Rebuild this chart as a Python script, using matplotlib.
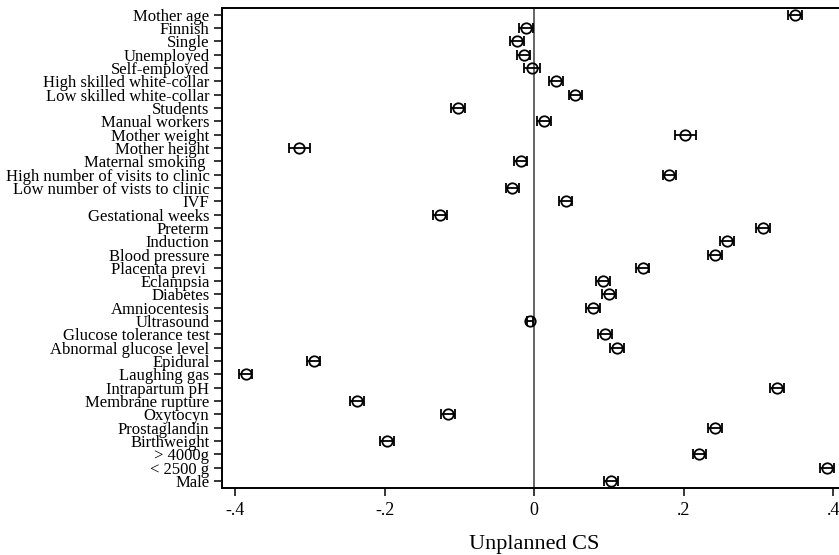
import matplotlib.pyplot as plt

labels = [
    "Mother age", "Finnish", "Single", "Unemployed", "Self-employed",
    "High skilled white-collar", "Low skilled white-collar", "Students",
    "Manual workers", "Mother weight", "Mother height", "Maternal smoking ",
    "High number of visits to clinic", "Low number of vists to clinic", "IVF",
    "Gestational weeks", "Preterm", "Induction", "Blood pressure",
    "Placenta previ ", "Eclampsia", "Diabetes", "Amniocentesis", "Ultrasound",
    "Glucose tolerance test", "Abnormal glucose level", "Epidural",
    "Laughing gas", "Intrapartum pH", "Membrane rupture", "Oxytocyn",
    "Prostaglandin", "Birthweight", "> 4000g", "< 2500 g", "Male",
]

coef = [
    0.349, -0.011, -0.023, -0.014, -0.003, 0.029, 0.055, -0.102, 0.013,
    0.202, -0.314, -0.018, 0.181, -0.029, 0.042, -0.126, 0.306, 0.258,
    0.242, 0.145, 0.092, 0.100, 0.079, -0.005, 0.095, 0.111, -0.295,
    -0.386, 0.325, -0.237, -0.115, 0.242, -0.197, 0.221, 0.392, 0.103,
]

ci_lo = [
    0.340, -0.020, -0.032, -0.023, -0.014, 0.020, 0.046, -0.111, 0.004,
    0.188, -0.328, -0.027, 0.172, -0.038, 0.033, -0.135, 0.297, 0.249,
    0.233, 0.136, 0.083, 0.091, 0.070, -0.009, 0.086, 0.102, -0.304,
    -0.395, 0.316, -0.246, -0.124, 0.233, -0.206, 0.212, 0.383, 0.094,
]

ci_hi = [
    0.358, -0.002, -0.014, -0.005, 0.008, 0.038, 0.064, -0.093, 0.022,
    0.216, -0.300, -0.009, 0.190, -0.020, 0.051, -0.117, 0.315, 0.267,
    0.251, 0.154, 0.101, 0.109, 0.088, -0.001, 0.104, 0.120, -0.286,
    -0.377, 0.334, -0.228, -0.106, 0.251, -0.188, 0.230, 0.401, 0.112,
]

xticks = [-0.4, -0.2, 0, 0.2, 0.4]
xticklabels = ["-.4", "-.2", "0", ".2", ".4"]

plt.rcParams["font.family"] = ["Liberation Serif", "DejaVu Serif"]

fig = plt.figure(figsize=(8.39, 5.55), dpi=100)
ax = fig.add_axes([222 / 839, 1 - 487.7 / 555, 625 / 839, 479.7 / 555])

pos = list(range(1, len(labels) + 1))
err_lo = [c - lo for c, lo in zip(coef, ci_lo)]
err_hi = [hi - c for c, hi in zip(coef, ci_hi)]

ax.axvline(0, color="#3c3c3c", lw=1.1, zorder=1)
ax.errorbar(coef, pos, xerr=[err_lo, err_hi], fmt="o", color="black",
            mfc="none", mec="black", mew=1.3, ms=7.5, elinewidth=1.3,
            capsize=3.6, capthick=1.3, zorder=3)

ax.set_ylim(len(labels) + 0.5, 0.5)
ax.set_xlim(-0.4175, 0.4185)
ax.set_yticks(pos)
ax.set_yticklabels(labels, fontsize=12)
ax.set_xticks(xticks)
ax.set_xticklabels(xticklabels, fontsize=13)
ax.set_xlabel("Unplanned CS", fontsize=16, labelpad=12)

ax.tick_params(axis="y", length=6, width=1.1, pad=3)
ax.tick_params(axis="x", length=6, width=1.1, pad=4)
for side in ["left", "top", "bottom"]:
    ax.spines[side].set_linewidth(1.4)
ax.spines["right"].set_visible(False)

fig.savefig("out.png", dpi=100)
